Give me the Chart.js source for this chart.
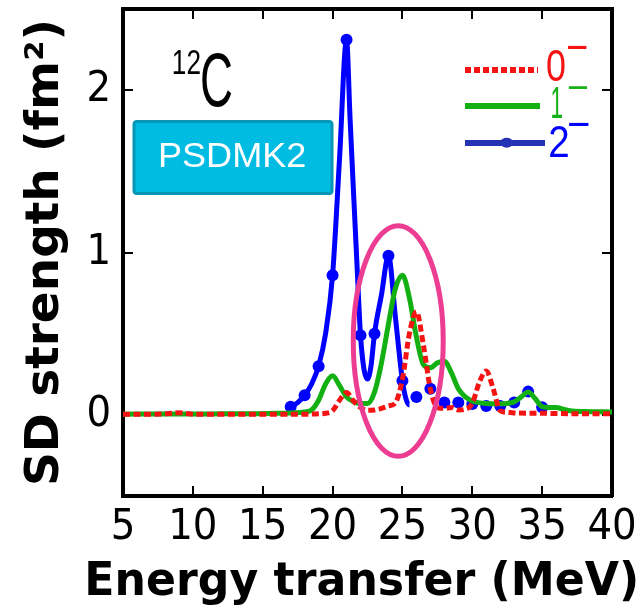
<!DOCTYPE html>
<html>
<head>
<meta charset="utf-8">
<script src="https://cdn.jsdelivr.net/npm/chart.js@4.4.1/dist/chart.umd.min.js"></script>
<style>
  html, body { margin: 0; padding: 0; background: #ffffff; }
  canvas { display: block; }
</style>
</head>
<body>
<canvas id="c" width="644" height="607"></canvas>
<script>
// ---------- data ----------
// 0- (red dashed)
const energy0 = [5, 6, 7, 8, 8.5, 9, 9.5, 10, 11, 12, 14, 16, 18, 19, 19.5, 20, 20.5, 21, 21.5, 22, 22.5, 23, 23.5, 24, 24.5, 25, 25.5, 26, 26.5, 27, 27.5, 28, 28.5, 29, 29.5, 30, 30.5, 31, 31.5, 32, 32.5, 33, 34, 35, 36, 37, 38, 39, 40];
const strength0 = [0.003, 0.004, 0.004, 0.006, 0.010, 0.013, 0.009, 0.004, 0.003, 0.003, 0.003, 0.003, 0.004, 0.006, 0.010, 0.025, 0.090, 0.137, 0.085, 0.045, 0.028, 0.030, 0.040, 0.055, 0.075, 0.22, 0.50, 0.635, 0.43, 0.16, 0.045, 0.040, 0.045, 0.030, 0.035, 0.070, 0.20, 0.27, 0.16, 0.025, 0.015, 0.012, 0.010, 0.010, 0.008, 0.007, 0.006, 0.006, 0.006];
// 1- (green solid)
const energy1 = [5, 8, 10, 12, 14, 16, 17, 18, 18.5, 19, 19.5, 20, 20.5, 21, 21.5, 22, 22.5, 23, 23.5, 24, 24.5, 25, 25.5, 26, 26.5, 27, 27.5, 28, 28.5, 29, 29.5, 30, 31, 32, 33, 33.5, 34, 34.5, 35, 35.5, 36, 36.5, 37, 38, 40];
const strength1 = [0.004, 0.005, 0.005, 0.006, 0.007, 0.009, 0.012, 0.018, 0.030, 0.09, 0.19, 0.24, 0.18, 0.11, 0.08, 0.07, 0.07, 0.14, 0.32, 0.56, 0.78, 0.86, 0.72, 0.48, 0.31, 0.29, 0.32, 0.33, 0.26, 0.16, 0.11, 0.085, 0.07, 0.068, 0.08, 0.11, 0.14, 0.10, 0.05, 0.045, 0.045, 0.035, 0.025, 0.02, 0.018];
// 2- (blue with markers at integer energies)
const energy2 = [17, 17.5, 18, 18.5, 19, 19.5, 20, 20.5, 21, 21.25, 21.5, 21.75, 22, 22.25, 22.5, 22.75, 23, 23.5, 24, 24.5, 25, 25.25, 25.5, 26, 27, 28, 29, 30, 31, 32, 33, 34, 35];
const strength2 = [0.05, 0.075, 0.12, 0.19, 0.30, 0.50, 0.86, 1.58, 2.31, 1.83, 1.37, 0.92, 0.49, 0.28, 0.22, 0.30, 0.50, 0.74, 0.98, 0.60, 0.21, 0.10, 0.06, 0.11, 0.16, 0.076, 0.076, 0.066, 0.055, 0.055, 0.076, 0.143, 0.047];

const xTickValues = [5, 10, 15, 20, 25, 30, 35, 40];
const yTickValues = [0, 1, 2];
const seriesLabels = ['0', '1', '2'];
const paritySign = '\u2212';
const nucleusMass = '12';
const nucleusSymbol = 'C';
const interactionName = 'PSDMK2';
const xTitle = 'Energy transfer (MeV)';
const yTitle = 'SD strength (fm\u00B2)';

// ---------- helpers ----------
const toPoints = (xs, ys) => xs.map((x, i) => ({ x: x, y: ys[i] }));

// draw text so that its ink fills the box (x0, y0, w, h)
function fitInk(ctx, text, x0, y0, w, h, family, weight, color) {
  ctx.save();
  ctx.font = weight + ' 100px ' + family;
  let m = ctx.measureText(text);
  const inkH = m.actualBoundingBoxAscent + m.actualBoundingBoxDescent;
  const size = 100 * h / inkH;
  ctx.font = weight + ' ' + size + 'px ' + family;
  ctx.textAlign = 'left';
  ctx.textBaseline = 'alphabetic';
  m = ctx.measureText(text);
  const inkW = m.actualBoundingBoxLeft + m.actualBoundingBoxRight;
  ctx.translate(x0, y0 + m.actualBoundingBoxAscent);
  ctx.scale(w / inkW, 1);
  ctx.fillStyle = color;
  ctx.fillText(text, m.actualBoundingBoxLeft, 0);
  ctx.restore();
}

// draw text with a given cap height, ink width, left edge and baseline
function fitCap(ctx, text, x0, baseline, w, capH, family, weight, color) {
  ctx.save();
  ctx.font = weight + ' 100px ' + family;
  const capRatio = ctx.measureText('H').actualBoundingBoxAscent / 100;
  const size = capH / capRatio;
  ctx.font = weight + ' ' + size + 'px ' + family;
  ctx.textAlign = 'left';
  ctx.textBaseline = 'alphabetic';
  const m = ctx.measureText(text);
  const inkW = m.actualBoundingBoxLeft + m.actualBoundingBoxRight;
  ctx.translate(x0, baseline);
  ctx.scale(w / inkW, 1);
  ctx.fillStyle = color;
  ctx.fillText(text, m.actualBoundingBoxLeft, 0);
  ctx.restore();
}

function roundRectPath(ctx, x, y, w, h, r) {
  ctx.beginPath();
  ctx.moveTo(x + r, y);
  ctx.lineTo(x + w - r, y);
  ctx.quadraticCurveTo(x + w, y, x + w, y + r);
  ctx.lineTo(x + w, y + h - r);
  ctx.quadraticCurveTo(x + w, y + h, x + w - r, y + h);
  ctx.lineTo(x + r, y + h);
  ctx.quadraticCurveTo(x, y + h, x, y + h - r);
  ctx.lineTo(x, y + r);
  ctx.quadraticCurveTo(x, y, x + r, y);
  ctx.closePath();
}

const SANS = "'Liberation Sans', Arial, sans-serif";
const NARROW = "'Liberation Sans Narrow', 'DejaVu Sans Condensed', 'Liberation Sans', sans-serif";
const BOLD = "'DejaVu Sans', 'Noto Sans', sans-serif";

const RED = '#f41414';
const GREEN = '#12b012';
const BLUE = '#0000ff';

// ---------- annotation plugin (label, box, ellipse, legend, x title) ----------
const annotations = {
  id: 'annotations',
  afterDatasetsDraw(chart) {
    const { ctx, chartArea: a, scales } = chart;
    const xs = scales.x, ys = scales.y;
    const L = a.left, T = a.top, R = a.right, B = a.bottom;

    // pink highlight ellipse (in data units)
    const cx = 24.7, cy = 0.455, rx = 3.22, ry = 0.71;
    const pcx = xs.getPixelForValue(cx), pcy = ys.getPixelForValue(cy);
    ctx.save();
    ctx.beginPath();
    ctx.ellipse(pcx, pcy,
      Math.abs(xs.getPixelForValue(cx + rx) - pcx),
      Math.abs(ys.getPixelForValue(cy + ry) - pcy), 0, 0, Math.PI * 2);
    ctx.strokeStyle = '#ec3d92';
    ctx.lineWidth = 5;
    ctx.stroke();
    ctx.restore();

    // 12C label
    fitInk(ctx, nucleusMass, L + 50.3, T + 41, 27, 25, SANS, 'normal', '#000');
    fitInk(ctx, nucleusSymbol, L + 78.7, T + 44.3, 30, 54, SANS, 'normal', '#000');

    // PSDMK2 box
    ctx.save();
    roundRectPath(ctx, L + 11, T + 112.5, 198, 72, 3);
    ctx.fillStyle = '#00bbe2';
    ctx.fill();
    ctx.lineWidth = 3;
    ctx.strokeStyle = '#0896b6';
    ctx.stroke();
    ctx.restore();
    fitInk(ctx, interactionName, L + 37, T + 134, 145, 25, SANS, 'normal', '#ffffff');

    // legend
    ctx.save();
    ctx.lineCap = 'butt';
    ctx.beginPath();
    ctx.setLineDash([6, 3]);
    ctx.moveTo(R - 147, T + 61); ctx.lineTo(R - 74, T + 61);
    ctx.strokeStyle = RED; ctx.lineWidth = 6; ctx.stroke();
    ctx.setLineDash([]);
    ctx.beginPath();
    ctx.moveTo(R - 147, T + 97); ctx.lineTo(R - 72, T + 97);
    ctx.strokeStyle = GREEN; ctx.lineWidth = 6; ctx.stroke();
    ctx.beginPath();
    ctx.moveTo(R - 147, T + 134); ctx.lineTo(R - 67, T + 134);
    ctx.strokeStyle = '#2632b4'; ctx.lineWidth = 6; ctx.stroke();
    ctx.beginPath();
    ctx.ellipse(R - 105.3, T + 133.7, 6.3, 5, 0, 0, Math.PI * 2);
    ctx.fillStyle = '#2632b4'; ctx.fill();
    ctx.restore();

    fitInk(ctx, seriesLabels[0], R - 65.3, T + 41, 18.3, 32, SANS, 'normal', RED);
    fitInk(ctx, paritySign, R - 44, T + 36, 19, 3.5, SANS, 'normal', RED);
    fitInk(ctx, seriesLabels[1], R - 60, T + 78, 10, 31, SANS, 'normal', GREEN);
    fitInk(ctx, paritySign, R - 44, T + 76.5, 20, 3, SANS, 'normal', GREEN);
    fitInk(ctx, seriesLabels[2], R - 62, T + 117, 18.3, 31, SANS, 'normal', BLUE);
    fitInk(ctx, paritySign, R - 43, T + 113, 20, 3.5, SANS, 'normal', BLUE);

    // x-axis title (wider than the plot area, so drawn here without squeezing)
    const titleW = 548;
    const titleLeft = (L + R) / 2 - 5.5 - titleW / 2;
    fitCap(ctx, xTitle, titleLeft, B + 99, titleW, 34.3, BOLD, 'bold', '#000');
  }
};

// ---------- axes ----------
const zeroPad = s => { s.paddingTop = 0; s.paddingBottom = 0; s.paddingLeft = 0; s.paddingRight = 0; };
const frameGrid = { drawOnChartArea: false, drawTicks: true, tickLength: -10, color: '#000', lineWidth: 2 };
const frameBorder = { display: true, color: '#000', width: 4 };
const tickFont = { family: NARROW, size: 43 };

new Chart(document.getElementById('c'), {
  type: 'line',
  data: {
    datasets: [
      {
        label: seriesLabels[0] + paritySign,
        data: toPoints(energy0, strength0),
        borderColor: RED, borderWidth: 5, borderDash: [7, 3.5],
        pointRadius: 0, cubicInterpolationMode: 'monotone', fill: false
      },
      {
        label: seriesLabels[1] + paritySign,
        data: toPoints(energy1, strength1),
        borderColor: GREEN, borderWidth: 5,
        pointRadius: 0, cubicInterpolationMode: 'monotone', fill: false
      },
      {
        label: seriesLabels[2] + paritySign,
        data: toPoints(energy2, strength2),
        borderColor: BLUE, borderWidth: 5,
        pointRadius: c => (c.raw && Number.isInteger(c.raw.x) ? 6 : 0),
        pointBackgroundColor: BLUE, pointBorderWidth: 0,
        cubicInterpolationMode: 'monotone', fill: false,
        segment: { borderColor: c => (c.p1.parsed.x > 25.5 ? 'rgba(0,0,0,0)' : undefined) }
      }
    ]
  },
  options: {
    responsive: false,
    animation: false,
    events: [],
    layout: { autoPadding: false, padding: { top: 9, right: 32, left: 0, bottom: 0 } },
    plugins: { legend: { display: false }, tooltip: { enabled: false } },
    scales: {
      x: {
        type: 'linear', position: 'bottom', min: 5, max: 40,
        afterBuildTicks: s => { s.ticks = xTickValues.map(v => ({ value: v })); },
        ticks: { font: tickFont, color: '#000', padding: 16, maxRotation: 0, autoSkip: false },
        grid: frameGrid, border: frameBorder,
        title: { display: false, text: xTitle },
        afterFit: s => { s.height = 111; zeroPad(s); }
      },
      x2: {
        type: 'linear', position: 'top', min: 5, max: 40,
        afterBuildTicks: s => { s.ticks = xTickValues.map(v => ({ value: v })); },
        ticks: { display: false },
        grid: frameGrid, border: frameBorder,
        afterFit: s => { s.height = 0; zeroPad(s); }
      },
      y: {
        type: 'linear', position: 'left', min: -0.5, max: 2.5,
        afterBuildTicks: s => { s.ticks = yTickValues.map(v => ({ value: v })); },
        ticks: { font: tickFont, color: '#000', padding: 22 },
        grid: frameGrid, border: frameBorder,
        title: {
          display: true, text: yTitle, color: '#000',
          font: { family: BOLD, weight: 'bold', size: 47, lineHeight: 1 },
          padding: { top: 22.5, bottom: 0 }
        },
        afterFit: s => { s.width = 123; zeroPad(s); }
      },
      y2: {
        type: 'linear', position: 'right', min: -0.5, max: 2.5,
        afterBuildTicks: s => { s.ticks = yTickValues.map(v => ({ value: v })); },
        ticks: { display: false },
        grid: frameGrid, border: frameBorder,
        afterFit: s => { s.width = 0; zeroPad(s); }
      }
    }
  },
  plugins: [annotations]
});
</script>
</body>
</html>
